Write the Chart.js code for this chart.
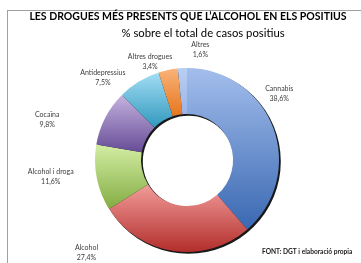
<!DOCTYPE html>
<html>
<head>
<meta charset="utf-8">
<script src="https://cdn.jsdelivr.net/npm/chart.js@4"></script>
<style>
  html, body { margin: 0; padding: 0; background: #fff; overflow: hidden; }
  #wrap { position: relative; width: 361px; height: 263px; }
  #frame { position: absolute; left: 7px; top: 10px; width: 400px; height: 300px;
           border-left: 1px solid #A0A0A0; border-top: 1px solid #A0A0A0; box-sizing: border-box; }
  canvas { position: absolute; left: 0; top: 0; }
</style>
</head>
<body>
<div id="wrap"><div id="frame"></div><canvas id="c" width="361" height="263"></canvas></div>
<script>
// ---- data ----
const categories = ["Cannabis", "Alcohol", "Alcohol i droga", "Cocaïna", "Antidepressius", "Altres drogues", "Altres"];
const values = [38.6, 27.4, 11.6, 9.8, 7.5, 3.4, 1.6];
const chartTitle = "LES DROGUES MÉS PRESENTS QUE L\u2019ALCOHOL EN ELS POSITIUS";
const chartSubtitle = "% sobre el total de casos positius";
const sourceNote = "FONT: DGT i elaboració propia";

// ---- styles ----
const lightColors = ["#A3BEEC", "#F19C9A", "#D3EDA4", "#C5B2DF", "#A3DDF3", "#F9B37A", "#BACFF3"];
const darkColors  = ["#3A68B2", "#B22E2B", "#84AC42", "#664C96", "#3199BE", "#E6761C", "#9AB4E6"];
// label offsets (px) from the outer mid-point of each slice
const labelOffsets = [[6, -34], [-87, 2], [-46, -1], [-58, 2], [-36, -4], [-18, -8], [18, -18]];

function fmt(v) { return v.toFixed(1).replace('.', ',') + '%'; }

// vertical gradient over each slice's own extent (geometry from the chart area)
function sliceGradient(ctx) {
  const chart = ctx.chart;
  const i = ctx.dataIndex;
  const area = chart.chartArea;
  if (!area || i === undefined) return lightColors[i || 0];
  const cx = (area.left + area.right) / 2, cy = (area.top + area.bottom) / 2;
  const outer = Math.min(area.right - area.left, area.bottom - area.top) / 2;
  const inner = outer * 0.5;
  const total = values.reduce((a, b) => a + b, 0);
  let before = 0;
  for (let k = 0; k < i; k++) before += values[k];
  const a0 = -Math.PI / 2 + 2 * Math.PI * before / total;
  const a1 = a0 + 2 * Math.PI * values[i] / total;
  let minY = Infinity, maxY = -Infinity;
  const n = 60;
  for (let s = 0; s <= n; s++) {
    const a = a0 + (a1 - a0) * s / n;
    for (const r of [inner, outer]) {
      const y = cy + r * Math.sin(a);
      minY = Math.min(minY, y); maxY = Math.max(maxY, y);
    }
  }
  const g = chart.ctx.createLinearGradient(0, minY, 0, maxY);
  g.addColorStop(0, lightColors[i]);
  g.addColorStop(1, darkColors[i]);
  return g;
}

const textPlugin = {
  id: 'texts',
  afterDraw(chart) {
    const c = chart.ctx;
    c.save();
    c.fillStyle = '#000';
    c.textAlign = 'center';
    c.textBaseline = 'middle';
    c.font = 'bold 10.5px Lato, "Open Sans", sans-serif';
    c.fillText(chartTitle, 188, 17);
    c.font = '11.3px Lato, "Open Sans", sans-serif';
    c.fillText(chartSubtitle, 203, 33);
    c.fillStyle = '#1a1a1a';
    c.textAlign = 'left';
    c.font = 'bold 6.6px Lato, "Open Sans", sans-serif';
    c.fillText(sourceNote, 262, 252);
    c.restore();
  }
};

const shadowPlugin = {
  id: 'ringShadow',
  beforeDatasetsDraw(chart) {
    const meta = chart.getDatasetMeta(0);
    if (!meta.data.length) return;
    const a = meta.data[0];
    const c = chart.ctx;
    c.save();
    c.fillStyle = 'rgba(0,0,0,0.9)';
    c.beginPath();
    c.arc(a.x + 1.5, a.y + 1.5, a.outerRadius + 0.3, 0, Math.PI * 2);
    c.arc(a.x + 1.5, a.y + 1.5, a.innerRadius - 0.3, 0, Math.PI * 2, true);
    c.fill();
    c.restore();
  }
};

const labelPlugin = {
  id: 'sliceLabels',
  afterDatasetsDraw(chart) {
    const meta = chart.getDatasetMeta(0);
    const c = chart.ctx;
    c.save();
    c.fillStyle = '#404040';
    c.textAlign = 'center';
    c.textBaseline = 'middle';
    c.font = '7px Lato, "Open Sans", sans-serif';
    meta.data.forEach((arc, i) => {
      const mid = (arc.startAngle + arc.endAngle) / 2;
      const ax = arc.x + arc.outerRadius * Math.cos(mid);
      const ay = arc.y + arc.outerRadius * Math.sin(mid);
      const x = ax + labelOffsets[i][0];
      const y = ay + labelOffsets[i][1];
      c.fillText(categories[i], x, y - 5);
      c.fillText(fmt(values[i]), x, y + 5);
    });
    c.restore();
  }
};

new Chart(document.getElementById('c'), {
  type: 'doughnut',
  data: {
    labels: categories,
    datasets: [{
      data: values,
      backgroundColor: sliceGradient,
      borderWidth: 0,
      hoverOffset: 0
    }]
  },
  options: {
    responsive: false,
    animation: false,
    cutout: '50%',
    layout: { padding: { left: 95, right: 82, top: 68, bottom: 11 } },
    plugins: {
      legend: { display: false },
      title: { display: false },
      tooltip: { enabled: false }
    }
  },
  plugins: [shadowPlugin, labelPlugin, textPlugin]
});
</script>
</body>
</html>
